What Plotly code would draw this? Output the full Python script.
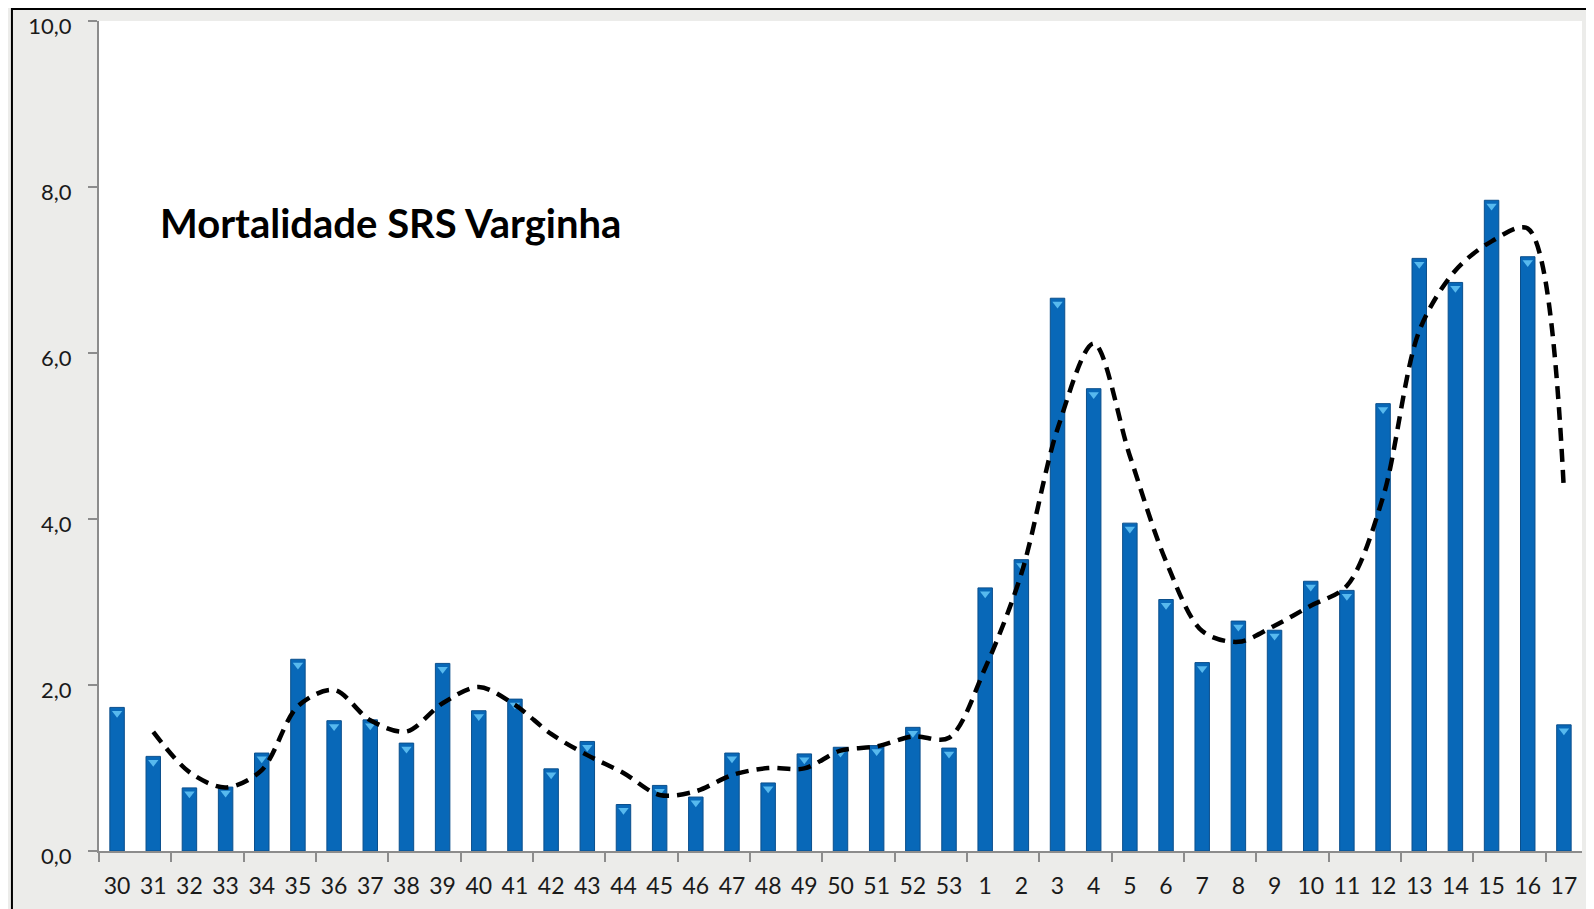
import plotly.graph_objects as go
import pandas as pd

# semanas epidemiológicas (30 a 53 e depois 1 a 17)
semanas = [str(s) for s in list(range(30, 54)) + list(range(1, 18))]

# mortalidade por semana
mortalidade = [
    1.73, 1.14, 0.76, 0.77, 1.18, 2.31, 1.57, 1.58, 1.30, 2.26,
    1.69, 1.83, 0.99, 1.32, 0.56, 0.79, 0.65, 1.18, 0.82, 1.17,
    1.25, 1.27, 1.49, 1.24,
    3.17, 3.51, 6.66, 5.57, 3.95, 3.03, 2.27, 2.77, 2.66, 3.25,
    3.14, 5.39, 7.14, 6.85, 7.84, 7.16, 1.52,
]

titulo = "Mortalidade SRS Varginha"
y_ticks = [0, 2, 4, 6, 8, 10]

idx = list(range(len(semanas)))
# linha de tendência: média móvel de 2 períodos (como no Excel)
media_movel = pd.Series(mortalidade).rolling(2).mean().tolist()

fig = go.Figure()

fig.add_trace(go.Bar(
    x=idx, y=mortalidade,
    width=0.4,
    marker=dict(color="#0868b8", line=dict(color="#0b4f8c", width=1)),
    hoverinfo="y",
))

# pequeno triângulo claro no topo de cada barra
fig.add_trace(go.Scatter(
    x=idx, y=[v - 0.07 for v in mortalidade],
    mode="markers",
    marker=dict(symbol="triangle-down", size=9, color="#57b9ee",
                line=dict(width=0)),
    hoverinfo="skip",
))

fig.add_trace(go.Scatter(
    x=idx, y=media_movel,
    mode="lines",
    line=dict(color="black", width=4.5, dash="13px,8px", shape="spline", smoothing=0.9),
    hoverinfo="skip",
))

fig.add_annotation(
    text="<b>" + titulo + "</b>",
    xref="paper", yref="paper", x=0.04, y=0.757,
    xanchor="left", yanchor="middle", showarrow=False,
    font=dict(family="Lato, Open Sans, sans-serif", size=40, color="black"),
)

# moldura preta do slide
fig.add_shape(type="line", xref="paper", yref="paper",
              x0=-0.0587, x1=-0.0587, y0=-0.08, y1=1.02,
              line=dict(color="black", width=2))
fig.add_shape(type="line", xref="paper", yref="paper",
              x0=-0.0587, x1=1.01, y0=1.0145, y1=1.0145,
              line=dict(color="black", width=2))

# a página tem 8px de margem no body, por isso a figura é um pouco menor
fig.update_layout(
    width=1586, height=901,
    margin=dict(l=91, r=12, t=13, b=58),
    paper_bgcolor="#ececea",
    plot_bgcolor="white",
    showlegend=False,
    separators=",.",
    font=dict(family="Lato, Open Sans, sans-serif", size=23, color="#1a1a1a"),
)

fig.update_xaxes(
    range=[-0.5, len(semanas) - 0.5],
    tickvals=idx, ticktext=semanas,
    ticks="", showgrid=False, zeroline=False, automargin=False,
    showline=True, linecolor="#8c8c8c", linewidth=2,
    tickfont=dict(size=23), ticklabelstandoff=13,
    minor=dict(tickvals=[i - 0.5 for i in idx[::2]], ticks="outside",
               ticklen=9, tickcolor="#8c8c8c", tickwidth=2, showgrid=False),
)

fig.update_yaxes(
    range=[0, 10], tickvals=y_ticks, tickformat=".1f",
    ticks="outside", ticklen=9, tickcolor="#8c8c8c", tickwidth=2,
    showgrid=False, zeroline=False, automargin=False,
    showline=True, linecolor="#8c8c8c", linewidth=2,
    tickfont=dict(size=22), ticklabelstandoff=12, ticklabelshift=5,
    ticklabeloverflow="allow",
)

fig.write_html("out.html")
